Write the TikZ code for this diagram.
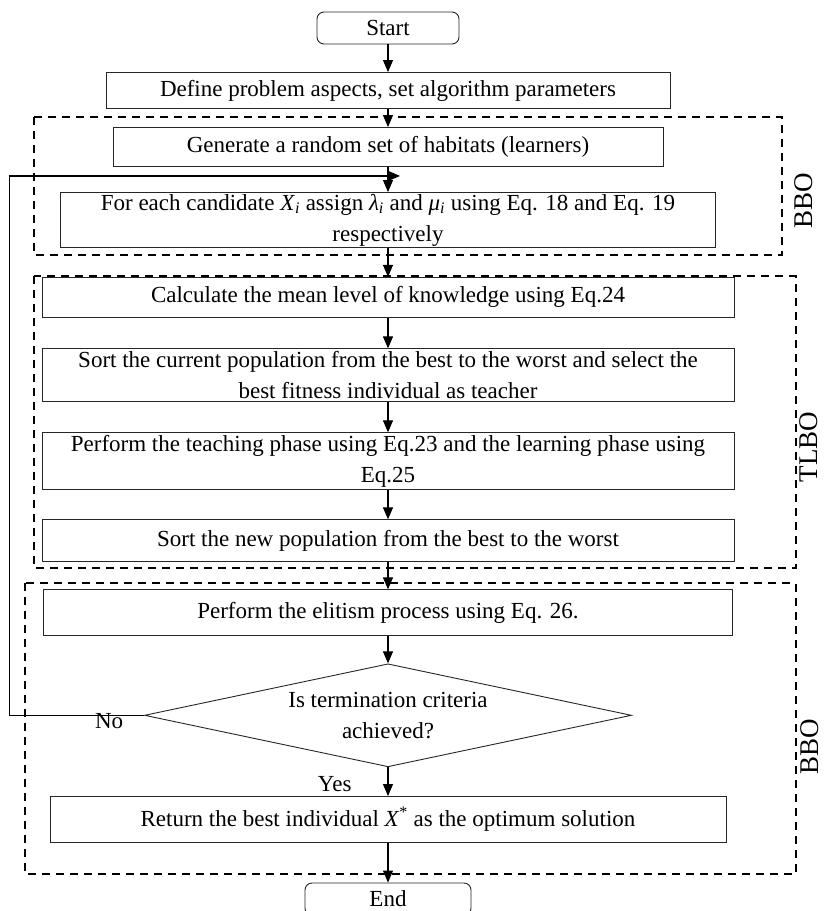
\documentclass[tikz,border=0pt]{standalone}
\usepackage{fontspec}
\setmainfont{Liberation Serif}
\usetikzlibrary{positioning}
\usetikzlibrary{shapes.geometric}
\usetikzlibrary{arrows.meta}

\newcommand{\itsub}[2]{\textit{#1}\textsubscript{\textit{#2}}}

\begin{document}
\begin{tikzpicture}[x=1pt,y=1pt,on grid,
    font=\fontsize{23}{31}\selectfont,
    block/.style={draw=black!85, line width=0.9pt, align=center, inner sep=0pt, minimum height=#1},
    block/.default=40pt,
    term/.style={block=32pt, rounded corners=7pt, minimum width=166pt},
    decision/.style={diamond, aspect=4.7, draw=black!85, line width=0.9pt, align=center, inner sep=0pt,
        minimum width=487pt, minimum height=103pt},
    flow/.style={-{Triangle[length=12pt,width=10pt]}, line width=1.1pt},
    frame/.style={line width=2pt, dash pattern=on 8pt off 6pt},
    phase/.style={font=\fontsize{27}{30}\selectfont, rotate=90, inner sep=0pt},
    lbl/.style={inner sep=0pt}]
      % \draw[help lines] (0,0) grid (826,-911);
    \useasboundingbox (0,0) rectangle (826,-911);

    \node[term, minimum width=142pt]                              (start) at (388,-28) {Start};
    \node[block=36pt, minimum width=564pt, below=62.5pt of start]   (define)   {Define problem aspects, set algorithm parameters};
    \node[block=39pt, minimum width=550pt, below=56.5pt of define]  (generate) {Generate a random set of habitats (learners)};
    \node[block=55pt, minimum width=655pt, below=73pt of generate]  (assign)   {For each candidate \itsub{X}{i} assign \itsub{λ}{i} and \itsub{μ}{i} using Eq. 18 and Eq. 19\\respectively};
    \node[block=40pt, minimum width=692pt, below=77.3pt of assign]  (mean)     {Calculate the mean level of knowledge using Eq.24};
    \node[block=53pt, minimum width=692pt, below=78pt of mean]      (sort)     {Sort the current population from the best to the worst and select the\\best fitness individual as teacher};
    \node[block=57pt, minimum width=692pt, below=86pt of sort]      (teach)    {Perform the teaching phase using Eq.23 and the learning phase using\\Eq.25};
    \node[block=42pt, minimum width=692pt, below=79.5pt of teach]   (sortnew)  {Sort the new population from the best to the worst};
    \node[block=46pt, minimum width=689pt, below=72pt of sortnew]   (elitism)  {Perform the elitism process using Eq. 26.};
    \node[decision, below=102.5pt of elitism]                       (check)    {Is termination criteria\\achieved?};
    \node[block=46pt, minimum width=676pt, below=104.2pt of check]  (best)     {Return the best individual \textit{X}\textsuperscript{*} as the optimum solution};
    \node[term, below=79.5pt of best]                               (end)      {End};

    % dashed phase frames
    \draw[frame] (34,-117) rectangle (782,-255);
    \draw[frame] (34,-276) rectangle (795.6,-568);
    \draw[frame] (25,-583) rectangle (795.6,-874);
    \node[phase] (bbo_a) at (803.5,-201) {BBO};
    \node[phase] (tlbo)  at (808.5,-447) {TLBO};
    \node[phase] (bbo_b) at (810,-747)   {BBO};

    \coordinate[xshift=12pt, yshift=-9pt] (merge) at (generate.south);

    \path[flow] (start) edge (define)
              (define) edge (generate)
              (generate) edge (assign)
              (assign) edge (mean)
              (mean) edge (sort)
              (sort) edge (teach)
              (teach) edge (sortnew)
              (sortnew) edge (elitism)
              (elitism) edge (check)
              (check) edge node[lbl, pos=0.6, left=36pt] {Yes} (best)
              (best) edge (end)
                    ;
    \draw[flow] (check.west) -- node[lbl, pos=0.26, yshift=-6pt] {No} ++(-134.5,0) |- (merge);
  \end{tikzpicture}
\end{document}
